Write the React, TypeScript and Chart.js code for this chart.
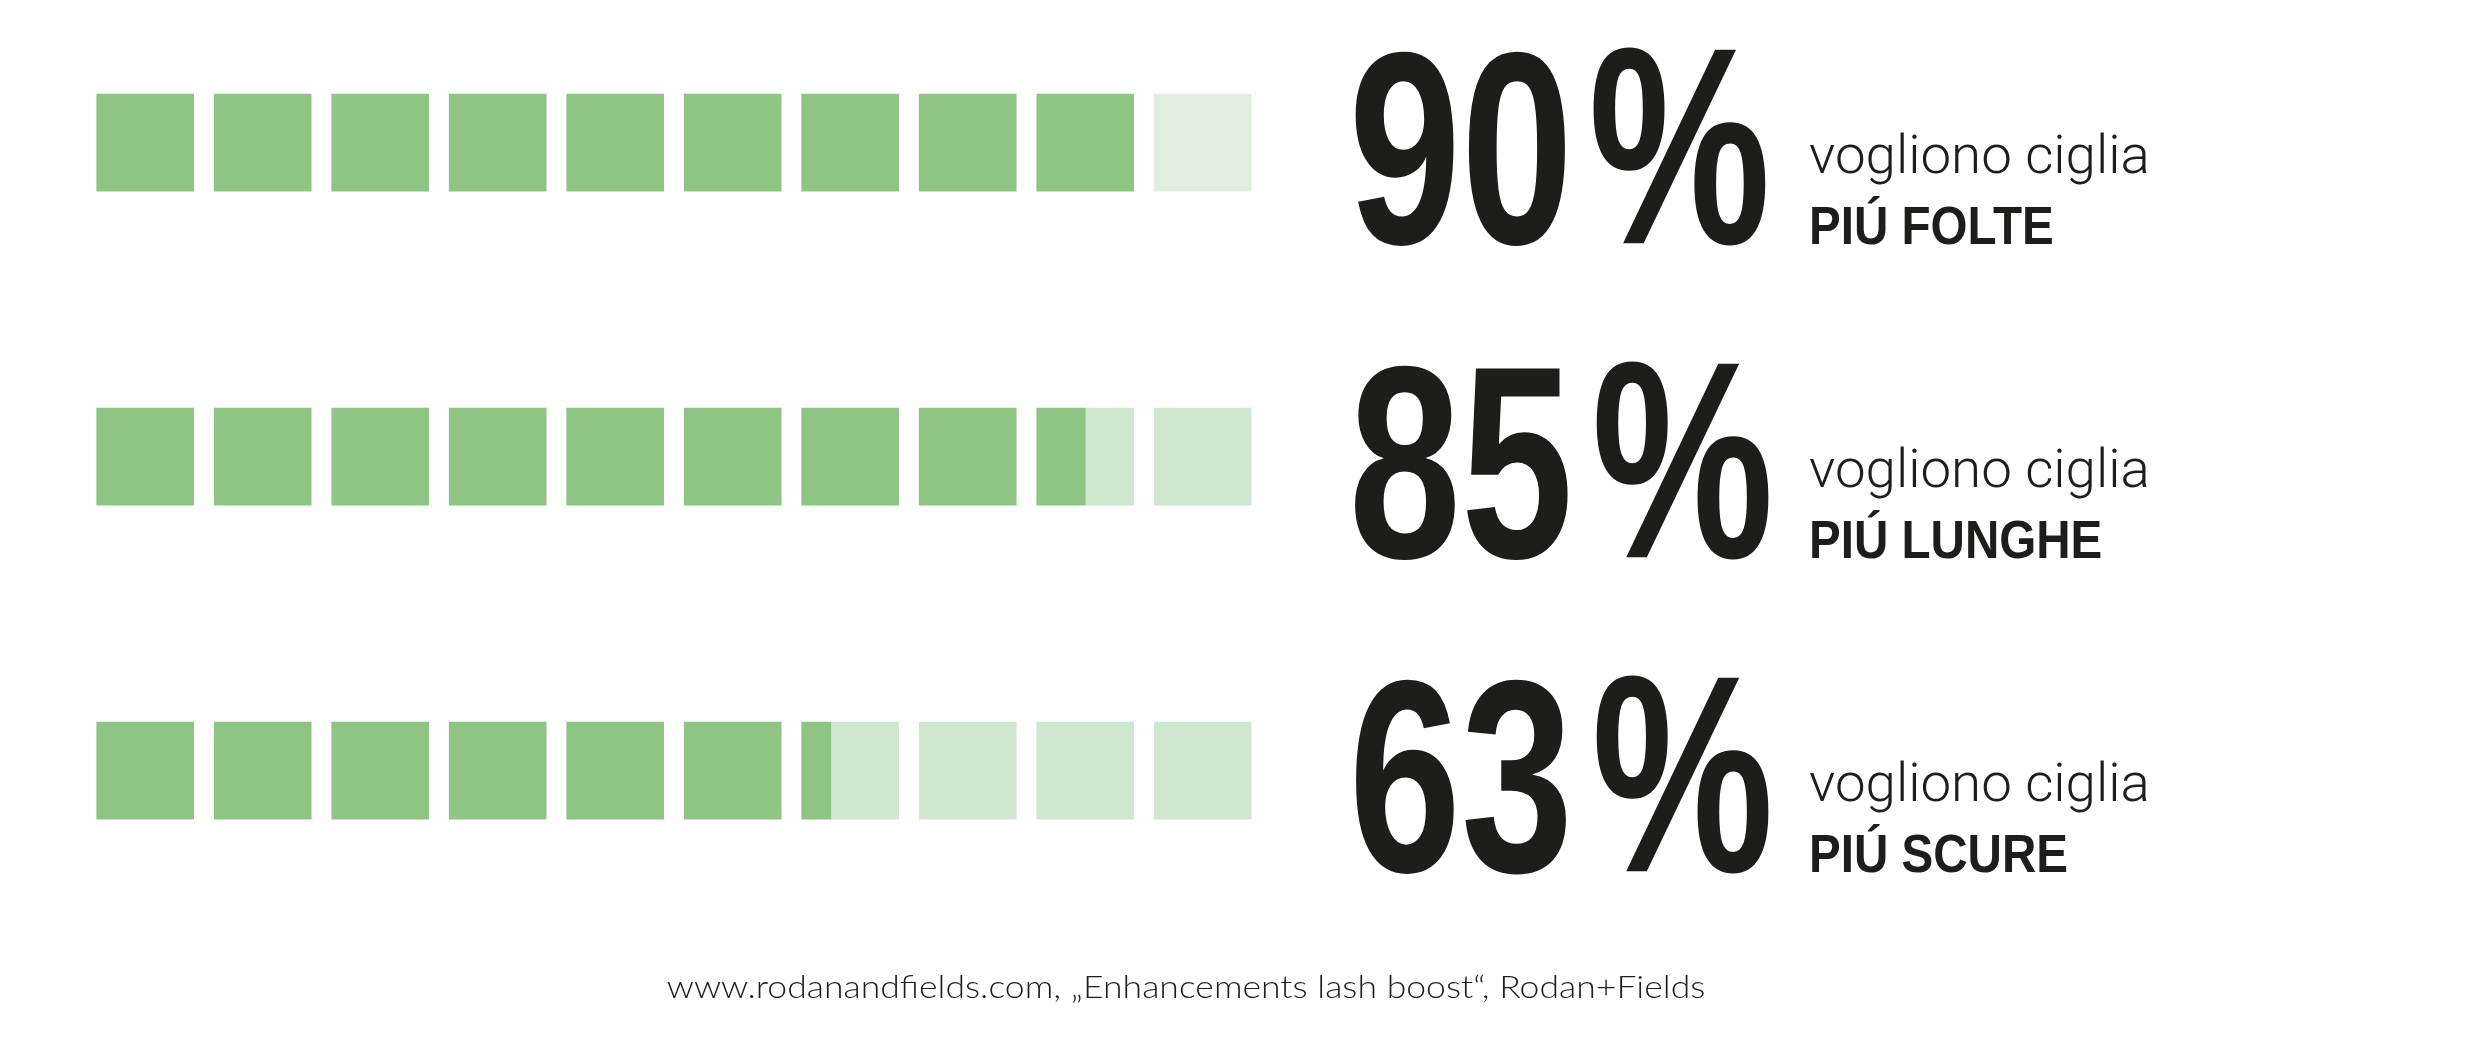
import React, { useEffect, useRef } from 'react';
import { Chart, registerables } from 'chart.js';

Chart.register(...registerables);

// ---- data ----
const categories = ['PIÚ FOLTE', 'PIÚ LUNGHE', 'PIÚ SCURE'];
const values = [90, 85, 63];
const percentLabels = ['90', '85', '63'];
const percentSign = '%';
const leadLabels = ['vogliono ciglia', 'vogliono ciglia', 'vogliono ciglia'];
const squaresPerRow = 10;
const percentPerSquare = 10;
const sourceNote = 'www.rodanandfields.com, „Enhancements lash boost“, Rodan+Fields';

// ---- style ----
const FILL = '#8FC584';
const EMPTY = ['#E1EFE1', '#CFE6CF', '#CFE6CF'];
const INK = '#1D1D1B';
const SQUARE_SHARE = 97 / 117.5;

function sizeFor(ctx: CanvasRenderingContext2D, weight: string, family: string, glyph: string, h: number) {
  ctx.font = `${weight} 100px ${family}`;
  const m = ctx.measureText(glyph);
  return (100 * h) / m.actualBoundingBoxAscent;
}
function inkWidth(ctx: CanvasRenderingContext2D, text: string) {
  const m = ctx.measureText(text);
  return m.actualBoundingBoxLeft + m.actualBoundingBoxRight;
}
function drawScaled(ctx: CanvasRenderingContext2D, text: string, x: number, y: number, sx: number) {
  const m = ctx.measureText(text);
  ctx.save();
  ctx.translate(x, y);
  ctx.scale(sx, 1);
  ctx.fillText(text, m.actualBoundingBoxLeft, 0);
  ctx.restore();
  return x + (m.actualBoundingBoxLeft + m.actualBoundingBoxRight) * sx;
}

const textPlugin = {
  id: 'sideText',
  afterDraw(chart: any) {
    const ctx: CanvasRenderingContext2D = chart.ctx;
    const yScale = chart.scales.y;
    ctx.save();
    ctx.fillStyle = INK;
    ctx.textAlign = 'left';
    ctx.textBaseline = 'alphabetic';

    // big percentages: digits and sign placed separately
    const bigFam = '"Liberation Sans Narrow", "Arial Narrow", sans-serif';
    const bigSize = sizeFor(ctx, '700', bigFam, '0', 192);
    ctx.font = `700 ${bigSize}px ${bigFam}`;
    const numSx = 210 / inkWidth(ctx, percentLabels[0]);
    const pctSize = sizeFor(ctx, '700', bigFam, percentSign, 197);
    ctx.font = `700 ${pctSize}px ${bigFam}`;
    const pctSx = 176 / inkWidth(ctx, percentSign);
    percentLabels.forEach((t, i) => {
      const cy = yScale.getPixelForValue(i);
      ctx.font = `700 ${bigSize}px ${bigFam}`;
      const right = drawScaled(ctx, t, 1355, cy + 100.6, numSx);
      ctx.font = `700 ${pctSize}px ${bigFam}`;
      drawScaled(ctx, percentSign, right + 26.7, cy + 100.6, pctSx);
    });

    // lead text
    const leadFam = 'Roboto, sans-serif';
    const leadSize = sizeFor(ctx, '300', leadFam, 'x', 29);
    ctx.font = `300 ${leadSize}px ${leadFam}`;
    const leadSx = 337 / inkWidth(ctx, leadLabels[0]);
    leadLabels.forEach((t, i) => {
      const cy = yScale.getPixelForValue(i);
      drawScaled(ctx, t, 1810, cy + 30.6, leadSx);
    });

    // category text
    const catFam = '"Liberation Sans Narrow", "Arial Narrow", sans-serif';
    const catSize = sizeFor(ctx, '700', catFam, 'H', 37);
    ctx.font = `700 ${catSize}px ${catFam}`;
    const catSx = 241 / inkWidth(ctx, categories[0]);
    categories.forEach((t, i) => {
      const cy = yScale.getPixelForValue(i);
      drawScaled(ctx, t, 1811.7, cy + 101.3, catSx);
    });

    // source note
    const noteFam = 'Lato, sans-serif';
    const noteSize = sizeFor(ctx, '300', noteFam, 'R', 23);
    ctx.font = `300 ${noteSize}px ${noteFam}`;
    const noteSx = 1038 / inkWidth(ctx, sourceNote);
    drawScaled(ctx, sourceNote, 666.7, 998.3, noteSx);

    ctx.restore();
  },
};

function buildDatasets() {
  const sets: any[] = [];
  const sq = percentPerSquare * SQUARE_SHARE;
  for (let i = 0; i < squaresPerRow; i++) {
    const start = i * percentPerSquare;
    const shares = values.map((v) => Math.max(0, Math.min(1, v / percentPerSquare - i)));
    sets.push({
      label: `filled ${i + 1}`,
      data: shares.map((f) => (f > 0 ? [start, start + f * sq] : null)),
      backgroundColor: FILL,
    });
    sets.push({
      label: `empty ${i + 1}`,
      data: shares.map((f) => (f < 1 ? [start + f * sq, start + sq] : null)),
      backgroundColor: EMPTY,
    });
  }
  return sets.map((s) => ({
    ...s,
    barThickness: 97,
    grouped: false,
    clip: false,
    borderWidth: 0,
  }));
}

export default function App() {
  const ref = useRef<HTMLCanvasElement | null>(null);
  useEffect(() => {
    if (!ref.current) return;
    const chart = new Chart(ref.current, {
      type: 'bar',
      data: { labels: categories, datasets: buildDatasets() },
      options: {
        indexAxis: 'y',
        responsive: false,
        devicePixelRatio: 1,
        animation: false,
        layout: { padding: { left: 96.7, right: 1208.3, top: 142.7, bottom: 279.3 } },
        plugins: { legend: { display: false }, tooltip: { enabled: false }, title: { display: false } },
        scales: {
          x: { type: 'linear', min: 0, max: squaresPerRow * percentPerSquare, display: false, grid: { display: false } },
          y: { type: 'category', labels: categories, offset: false, display: false, grid: { display: false } },
        },
      },
      plugins: [textPlugin],
    } as any);
    return () => chart.destroy();
  }, []);
  return (
    <div style={{ position: 'fixed', left: 0, top: 0, width: 2480, height: 1050, background: '#ffffff' }}>
      <canvas ref={ref} width={2480} height={1050} style={{ display: 'block', width: 2480, height: 1050 }} />
    </div>
  );
}
